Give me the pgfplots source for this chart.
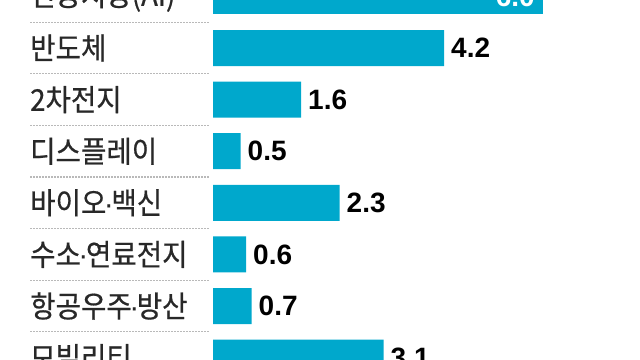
\documentclass[border=0pt]{standalone}
\usepackage{pgfplots}
\pgfplotsset{compat=1.18}
\usepackage{fontspec}
\setmainfont{Liberation Sans}
\newfontfamily\kr[FakeStretch=0.92,FakeBold=0.6]{Noto Sans CJK KR}
\newfontfamily\num{Liberation Sans}
\newcommand{\md}{{\num\fontsize{30bp}{30bp}\selectfont\kern-2.5bp·\kern-2.5bp}}
\definecolor{barc}{RGB}{0,168,204}
\definecolor{lab}{RGB}{40,40,40}
\definecolor{dotc}{RGB}{185,185,185}
\tikzset{lbl/.style={anchor=west, inner sep=0pt, text=lab, font=\kr\fontsize{30bp}{30bp}\selectfont}}
\begin{document}
\begin{tikzpicture}
\path[use as bounding box] (0,0) rectangle (640bp,360bp);
\clip (0,0) rectangle (640bp,360bp);
\begin{axis}[at={(0,0)}, anchor=south west, scale only axis,
  width=640bp, height=360bp,
  xmin=-3.8727, xmax=7.7636, ymin=0.06977, ymax=7.0465, y dir=reverse,
  axis lines=none, xbar, bar width=36bp, bar shift=0pt, clip=false,
  point meta=explicit symbolic]
\addplot[fill=barc, draw=none, nodes near coords={\pgfplotspointmeta},
  nodes near coords style={anchor=west, inner sep=0pt, xshift=7bp, text=black,
  font=\num\bfseries\fontsize{28bp}{28bp}\selectfont}]
  coordinates {(4.2,1) [4.2] (1.6,2) [1.6] (0.5,3) [0.5] (2.3,4) [2.3] (0.6,5) [0.6] (0.7,6) [0.7] (3.1,7) [3.1]};
\addplot[fill=barc, draw=none, nodes near coords={\pgfplotspointmeta},
  nodes near coords style={anchor=east, inner sep=0pt, xshift=-8bp, text=white,
  font=\num\bfseries\fontsize{28bp}{28bp}\selectfont}]
  coordinates {(6.0,0) [6.0]};
\pgfplotsinvokeforeach{0.5,1.5,2.5,3.5,4.5,5.5,6.5}{
  \draw[dotc, line width=1.2bp, dash pattern=on 1.5bp off 1.5bp]
    (axis cs:-3.327,#1) -- (axis cs:-0.07,#1);
}
\node[lbl] at (axis cs:-3.327,0) {인공지능(AI)};
\node[lbl] at (axis cs:-3.327,1) {반도체};
\node[lbl] at (axis cs:-3.327,2) {2차전지};
\node[lbl] at (axis cs:-3.327,3) {디스플레이};
\node[lbl] at (axis cs:-3.327,4) {바이오\md 백신};
\node[lbl] at (axis cs:-3.327,5) {수소\md 연료전지};
\node[lbl] at (axis cs:-3.327,6) {항공우주\md 방산};
\node[lbl] at (axis cs:-3.327,7) {모빌리티};
\end{axis}
\end{tikzpicture}
\end{document}
